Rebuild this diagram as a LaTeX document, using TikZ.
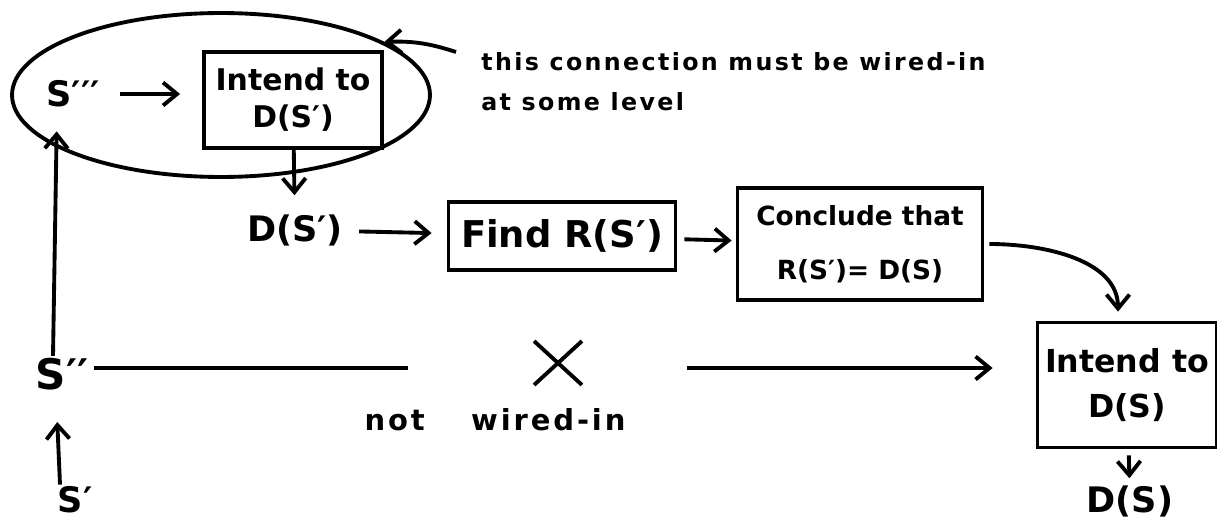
\documentclass[tikz,border=0pt]{standalone}
\usepackage{fontspec}
\setmainfont{DejaVu Sans}
\newfontfamily\notefont[LetterSpace=10]{DejaVu Sans}
\usetikzlibrary{arrows.meta,shapes.geometric,shapes.misc}
\begin{document}
\begin{tikzpicture}[x=0.02cm,y=-0.02cm]
          \tikzstyle{state}=[inner sep=1pt,font=\bfseries\fontsize{20}{24}\selectfont]
          \tikzstyle{task}=[rectangle,draw=black,line width=2.2pt,align=center,inner sep=0pt]
          \tikzstyle{wire}=[line width=2.2pt]
          \tikzstyle{edge}=[wire,-{Straight Barb[length=2.8mm,width=4.6mm,line width=2.2pt]}]
          \tikzstyle{note}=[inner sep=0pt,align=left,font=\notefont\bfseries\fontsize{13.5}{22.7}\selectfont]
          \useasboundingbox (0,0) rectangle (1217,527);
          \begin{scope}
              \node [ellipse,draw,line width=2.2pt,minimum width=8.36cm,minimum height=3.28cm] (loop) at (221,95) {};
              \node [state] (s3) at (73,94) {S′′′};
              \node [task,minimum width=3.56cm,minimum height=1.92cm,font=\bfseries\fontsize{17}{21}\selectfont] (intend1) at (293,100) {Intend to\\D(S′)};
              \node [state] (ds1) at (295,230) {D(S′)};
              \node [task,minimum width=4.54cm,minimum height=1.36cm,font=\bfseries\fontsize{21}{25}\selectfont] (find) at (562,236) {Find R(S′)};
              \node [task,minimum width=4.9cm,minimum height=2.24cm,font=\bfseries\fontsize{15}{31}\selectfont] (concl) at (860,244) {Conclude that\\R(S′)= D(S)};
              \node [task,minimum width=3.58cm,minimum height=2.5cm,font=\bfseries\fontsize{18}{26}\selectfont] (intend2) at (1127,385) {Intend to\\D(S)};
              \node [state] (ds2) at (1130,501) {D(S)};
              \node [state,font=\bfseries\fontsize{24}{28}\selectfont] (s2) at (62,374) {S′′};
              \node [state] (s1) at (75,500) {S′};
              \node [cross out,draw,line width=2.2pt,minimum width=0.88cm,minimum height=0.8cm] (cross) at (558,363) {};
              \node [note,font=\notefont\bfseries\fontsize{16.5}{20}\selectfont] (nowire) at (495,420) {not\hspace{1.6em}wired-in};
              \node [note,anchor=north west] (remark) at (481,52) {this connection must be wired-in\\at some level};
              \coordinate (gap1) at (408,368);
              \coordinate (gap2) at (687,368);
              \path[edge] (s3.east) edge [shorten <=0.36cm,shorten >=0.44cm] (s3.east -| intend1.west);
              \path[edge] (intend1) edge [shorten >=0.34cm] (ds1);
              \path[edge] (ds1) edge [shorten <=0.28cm,shorten >=0.3cm] (find);
              \path[edge] (find) edge [shorten <=0.14cm,shorten >=0.08cm] (concl);
              \path[edge] (concl.east) edge [out=0,in=90,shorten <=0.1cm,shorten >=0.18cm] ([xshift=-0.18cm]intend2.north);
              \path[edge] (intend2) edge [shorten <=0.12cm,shorten >=0.1cm] (ds2);
              \path[wire] (s2.east |- gap1) edge [shorten <=0.08cm] (gap1);
              \path[edge] (gap2) edge [shorten >=0.86cm] (gap2 -| intend2.west);
              \path[edge] ([xshift=-0.3cm]s1.north) edge [shorten >=0.6cm] ([xshift=-0.12cm]s2.south);
              \path[edge] ([xshift=-0.18cm]s2.north) edge [shorten >=0.44cm] ([xshift=-0.32cm]s3.south);
              \path[edge] ([xshift=-0.5cm]remark.north west) edge [bend right=10] (loop.18);
          \end{scope}
\end{tikzpicture}
\end{document}
